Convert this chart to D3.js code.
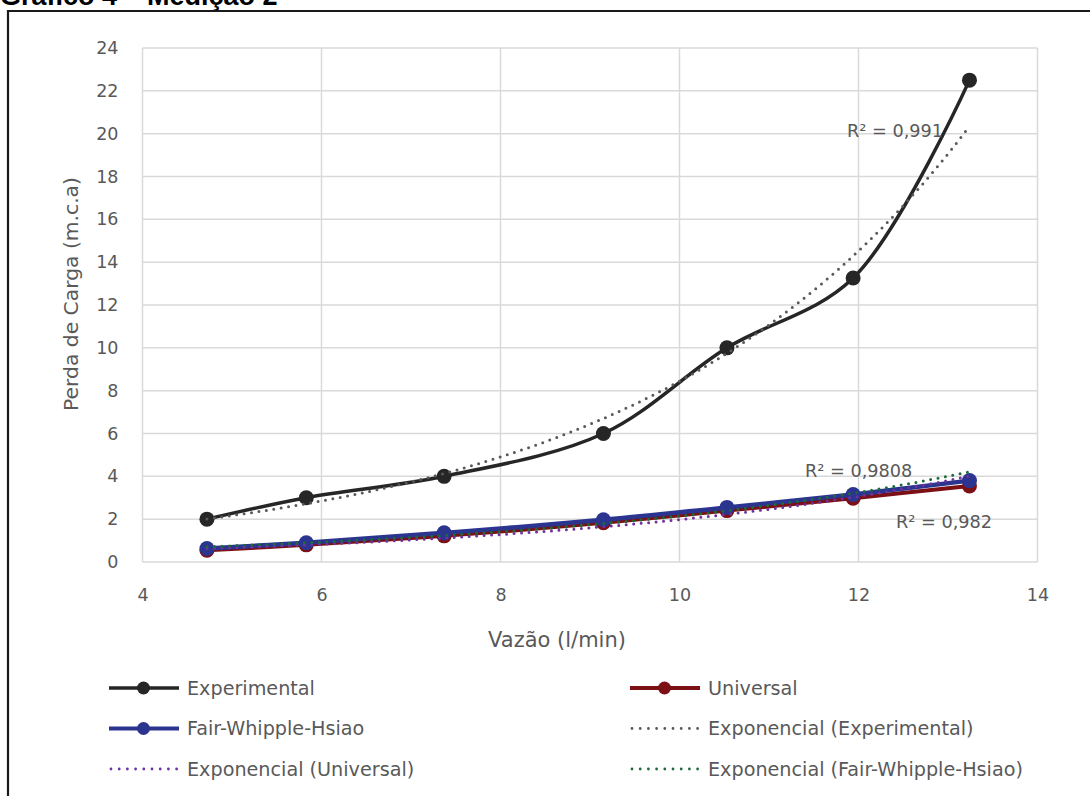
<!DOCTYPE html>
<html>
<head>
<meta charset="utf-8">
<script src="https://cdn.jsdelivr.net/npm/d3@7"></script>
<style>
  html, body { margin: 0; padding: 0; background: #fff; }
  svg { display: block; }
</style>
</head>
<body>
<svg id="chart" width="1090" height="796"></svg>
<script>
// Vazão (l/min) at each measurement
const vazao = [4.72, 5.83, 7.37, 9.15, 10.53, 11.94, 13.24];
// Perda de carga (m.c.a) per series
const experimental = [2.0, 3.0, 4.0, 6.0, 10.0, 13.26, 22.5];
const universal = [0.55, 0.80, 1.22, 1.83, 2.40, 2.98, 3.55];
const fairWhippleHsiao = [0.63, 0.90, 1.36, 1.97, 2.55, 3.15, 3.80];

const xTicks = [4, 6, 8, 10, 12, 14];
const yTicks = [0, 2, 4, 6, 8, 10, 12, 14, 16, 18, 20, 22, 24];

const seriesNames = ["Experimental", "Universal", "Fair-Whipple-Hsiao"];
const trendNames = ["Exponencial (Experimental)", "Exponencial (Universal)", "Exponencial (Fair-Whipple-Hsiao)"];
const r2Labels = ["R² = 0,991", "R² = 0,982", "R² = 0,9808"];

const svg = d3.select("#chart");
const font = "'DejaVu Sans', sans-serif";
const textGray = "#595959";

const x = d3.scaleLinear().domain([4, 14]).range([142.5, 1037.5]);
const y = d3.scaleLinear().domain([0, 24]).range([562, 48]);

// title, partly cut by the top edge
svg.append("text").attr("x", 0).attr("y", 5)
  .attr("font-family", "'Liberation Sans', Arial, sans-serif")
  .attr("font-weight", "bold").attr("font-size", 27).attr("fill", "#000")
  .text("Gráfico 4 – Medição 2");

// frame
svg.append("path").attr("d", "M8,800 V11 H1095")
  .attr("fill", "none").attr("stroke", "#1a1a1a").attr("stroke-width", 2.2);

// gridlines
const grid = svg.append("g").attr("stroke", "#d9d9d9").attr("stroke-width", 1.5);
grid.selectAll("line.h").data(yTicks).join("line")
  .attr("x1", x(4)).attr("x2", x(14)).attr("y1", d => y(d)).attr("y2", d => y(d));
grid.selectAll("line.v").data(xTicks).join("line")
  .attr("y1", y(0)).attr("y2", y(24)).attr("x1", d => x(d)).attr("x2", d => x(d));

// axes (labels only)
const xAxis = svg.append("g").attr("transform", "translate(0,601)")
  .call(d3.axisBottom(x).tickValues(xTicks).tickSize(0).tickPadding(0));
const yAxis = svg.append("g").attr("transform", `translate(${x(4) - 24},0)`)
  .call(d3.axisLeft(y).tickValues(yTicks).tickSize(0).tickPadding(0));
[xAxis, yAxis].forEach(a => {
  a.select(".domain").remove();
  a.selectAll("text").attr("font-family", font).attr("font-size", 17.5).attr("fill", textGray);
});
xAxis.selectAll("text").attr("y", 0).attr("dy", 0);

svg.append("text").attr("x", 557).attr("y", 647).attr("text-anchor", "middle")
  .attr("font-family", font).attr("font-size", 21).attr("fill", textGray)
  .text("Vazão (l/min)");
svg.append("text").attr("transform", "translate(78,294) rotate(-90)")
  .attr("text-anchor", "middle")
  .attr("font-family", font).attr("font-size", 20.3).attr("fill", textGray)
  .text("Perda de Carga (m.c.a)");

// exponential fit y = a·e^(b·x), least squares on ln(y)
function expFit(xs, ys) {
  const ly = ys.map(Math.log);
  const mx = d3.mean(xs), my = d3.mean(ly);
  const b = d3.sum(xs, (v, i) => (v - mx) * (ly[i] - my)) / d3.sum(xs, v => (v - mx) ** 2);
  const a = Math.exp(my - b * mx);
  return v => a * Math.exp(b * v);
}

const series = [
  { name: seriesNames[0], values: experimental, color: "#262626", width: 3.5, trend: "#595959" },
  { name: seriesNames[1], values: universal, color: "#7b1115", width: 4, trend: "#7030a0" },
  { name: seriesNames[2], values: fairWhippleHsiao, color: "#2b3590", width: 4.5, trend: "#1d6b39" }
];

const line = d3.line().x(d => x(d[0])).y(d => y(d[1])).curve(d3.curveCatmullRom.alpha(0.5));

series.forEach(s => {
  const pts = vazao.map((v, i) => [v, s.values[i]]);
  svg.append("path").datum(pts).attr("d", line)
    .attr("fill", "none").attr("stroke", s.color).attr("stroke-width", s.width)
    .attr("stroke-linejoin", "round").attr("stroke-linecap", "round");
  svg.append("g").selectAll("circle").data(pts).join("circle")
    .attr("cx", d => x(d[0])).attr("cy", d => y(d[1])).attr("r", 7.5)
    .attr("fill", s.color);
});

// trendlines
const trendLine = d3.line().x(d => x(d[0])).y(d => y(d[1]));
series.forEach(s => {
  const f = expFit(vazao, s.values);
  const xs = d3.range(0, 101).map(k => vazao[0] + (vazao[vazao.length - 1] - vazao[0]) * k / 100);
  svg.append("path").datum(xs.map(v => [v, f(v)])).attr("d", trendLine)
    .attr("fill", "none").attr("stroke", s.trend).attr("stroke-width", 3)
    .attr("stroke-dasharray", "0 7.5").attr("stroke-linecap", "round");
});

// R² annotations
const r2Pos = [[847, 137], [896, 528], [805, 477]];
r2Labels.forEach((t, i) => {
  svg.append("text").attr("x", r2Pos[i][0]).attr("y", r2Pos[i][1])
    .attr("font-family", font).attr("font-size", 17.7).attr("fill", textGray).text(t);
});

// legend
const legendItems = [
  { label: seriesNames[0], color: series[0].color, w: 3.5, marker: true },
  { label: seriesNames[1], color: series[1].color, w: 4, marker: true },
  { label: seriesNames[2], color: series[2].color, w: 4, marker: true },
  { label: trendNames[0], color: series[0].trend, w: 3, marker: false },
  { label: trendNames[1], color: series[1].trend, w: 3, marker: false },
  { label: trendNames[2], color: series[2].trend, w: 3, marker: false }
];
const colX = [109, 630];
const rowY = [688, 728.5, 769];
const leg = svg.append("g");
legendItems.forEach((d, i) => {
  const cx = colX[i % 2], cy = rowY[Math.floor(i / 2)];
  const g = leg.append("g").attr("transform", `translate(${cx},${cy})`);
  if (d.marker) {
    g.append("line").attr("x1", 0).attr("x2", 70).attr("stroke", d.color).attr("stroke-width", d.w);
    g.append("circle").attr("cx", 34.5).attr("r", 6.5).attr("fill", d.color);
  } else {
    g.append("line").attr("x1", 2).attr("x2", 68).attr("stroke", d.color).attr("stroke-width", 2.8)
      .attr("stroke-dasharray", "0 8.2").attr("stroke-linecap", "round");
  }
  g.append("text").attr("x", 78).attr("dy", "0.36em")
    .attr("font-family", font).attr("font-size", 19.2).attr("fill", textGray).text(d.label);
});
</script>
</body>
</html>
